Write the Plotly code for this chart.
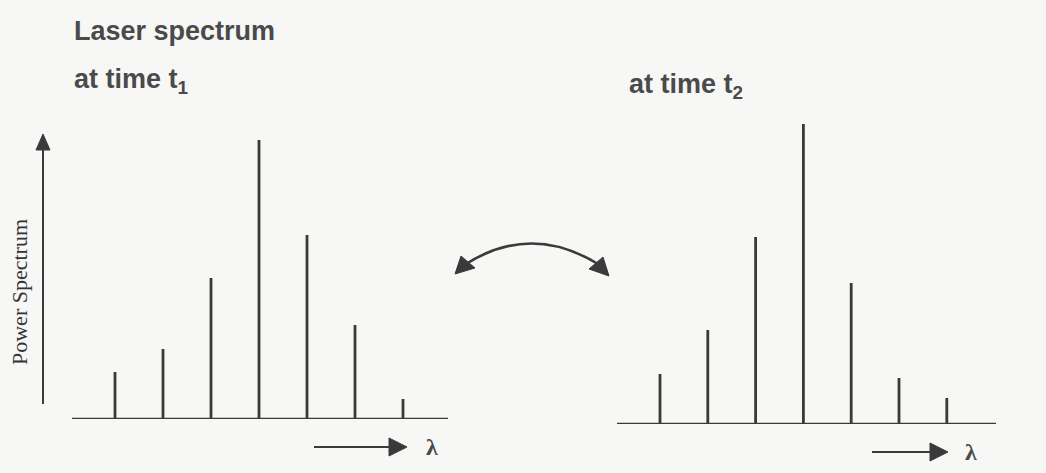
import plotly.graph_objects as go

# Longitudinal-mode intensities (arbitrary units) for the two snapshots
modes = [0, 1, 2, 3, 4, 5, 6]
power_t1 = [47, 70, 141, 279, 184, 94, 20]
power_t2 = [50, 94, 187, 306, 141, 46, 26]

W, H = 1046, 473
INK = "#3a3a3a"
BG = "#f7f7f6"


def px_x(p):
    return p / W


def px_y(p):
    return (H - p) / H


def stems(xs, ys):
    x, y = [], []
    for a, b in zip(xs, ys):
        x += [a, a, None]
        y += [0, b, None]
    return x, y


fig = go.Figure()

# left spectrum (t1)
x1, y1 = stems(modes, power_t1)
fig.add_trace(go.Scatter(x=x1, y=y1, mode="lines", xaxis="x", yaxis="y",
                         line=dict(color=INK, width=2.8), hoverinfo="skip"))
# right spectrum (t2)
x2, y2 = stems(modes, power_t2)
fig.add_trace(go.Scatter(x=x2, y=y2, mode="lines", xaxis="x2", yaxis="y2",
                         line=dict(color=INK, width=2.8), hoverinfo="skip"))

axis_off = dict(showgrid=False, zeroline=False, showticklabels=False,
                ticks="", showline=False, fixedrange=True)

# panel geometry in pixels
L_x0, L_x1, L_base = 72, 448, 419
R_x0, R_x1, R_base = 617, 996, 424
L_first, R_first, step_l, step_r = 115, 660, 48.0, 47.8

fig.update_layout(
    xaxis=dict(domain=[px_x(L_x0), px_x(L_x1)],
               range=[(L_x0 - L_first) / step_l, (L_x1 - L_first) / step_l], **axis_off),
    yaxis=dict(domain=[px_y(L_base), px_y(L_base - 300)], range=[0, 300], **axis_off),
    xaxis2=dict(domain=[px_x(R_x0), px_x(R_x1)],
                range=[(R_x0 - R_first) / step_r, (R_x1 - R_first) / step_r], **axis_off),
    yaxis2=dict(domain=[px_y(R_base), px_y(R_base - 300)], range=[0, 300], **axis_off),
    # full-canvas overlay used for the decorative arrows
    xaxis3=dict(domain=[0, 1], range=[0, W], **axis_off),
    yaxis3=dict(domain=[0, 1], range=[H, 0], **axis_off),
)

# baselines
fig.add_shape(type="line", xref="x domain", yref="y", x0=0, x1=1, y0=0, y1=0,
              line=dict(color=INK, width=2.4))
fig.add_shape(type="line", xref="x2 domain", yref="y2", x0=0, x1=1, y0=0, y1=0,
              line=dict(color=INK, width=2.4))

# curved double-headed arrow between the panels
fig.add_shape(type="path", xref="x3", yref="y3",
              path="M 466 264 Q 531 223 598 264",
              line=dict(color=INK, width=2.6))
fig.add_shape(type="path", xref="x3", yref="y3",
              path="M 455 274 L 461 256 L 475 268 Z",
              fillcolor=INK, line=dict(color=INK, width=1))
fig.add_shape(type="path", xref="x3", yref="y3",
              path="M 609 276 L 603 257 L 589 269 Z",
              fillcolor=INK, line=dict(color=INK, width=1))

# vertical power axis arrow
fig.add_shape(type="line", xref="x3", yref="y3", x0=43, x1=43, y0=404, y1=148,
              line=dict(color=INK, width=2))
fig.add_shape(type="path", xref="x3", yref="y3",
              path="M 43 134 L 36 150 L 50 150 Z",
              fillcolor=INK, line=dict(color=INK, width=1))

# wavelength arrows
for xa, xb, yy in [(314, 389, 447), (872, 930, 452)]:
    fig.add_shape(type="line", xref="x3", yref="y3", x0=xa, x1=xb, y0=yy, y1=yy,
                  line=dict(color=INK, width=2))
    fig.add_shape(type="path", xref="x3", yref="y3",
                  path=f"M {xb + 18} {yy} L {xb} {yy - 9} L {xb} {yy + 9} Z",
                  fillcolor=INK, line=dict(color=INK, width=1))

sans = "Liberation Sans, Arial, sans-serif"
serif = "Liberation Serif, Times New Roman, serif"

texts = [
    (72, 31, "<b>Laser spectrum</b>", sans, 27),
    (72, 81, "<b>at time t<sub>1</sub></b>", sans, 27),
    (627, 86, "<b>at time t<sub>2</sub></b>", sans, 27),
    (424, 447, "<b>λ</b>", serif, 24),
    (963, 452, "<b>λ</b>", serif, 24),
]
for x, y, t, fam, size in texts:
    fig.add_annotation(x=x, y=y, xref="x3", yref="y3", text=t, showarrow=False,
                       xanchor="left", yanchor="middle",
                       font=dict(family=fam, size=size, color="#4a4a4a"))

fig.add_annotation(x=19, y=292, xref="x3", yref="y3", text="Power Spectrum",
                   showarrow=False, textangle=-90, xanchor="center", yanchor="middle",
                   font=dict(family=serif, size=22, color="#333"))

fig.update_layout(width=W, height=H, margin=dict(l=0, r=0, t=0, b=0),
                  paper_bgcolor=BG, plot_bgcolor="rgba(0,0,0,0)", showlegend=False)

fig.write_html("out.html")
